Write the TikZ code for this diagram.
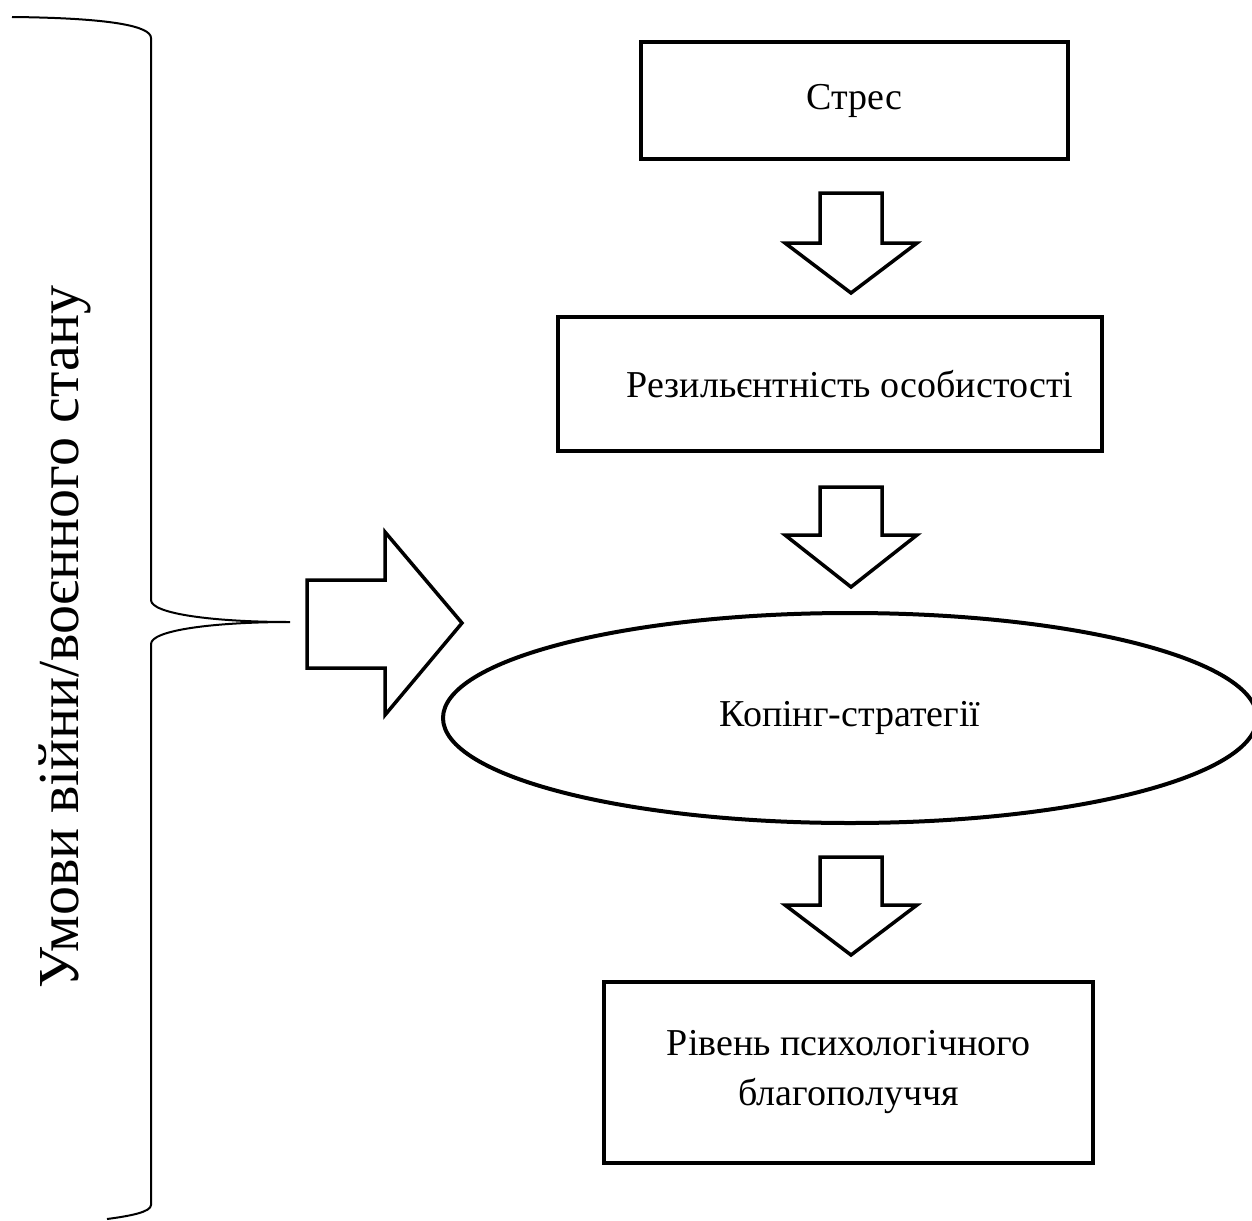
\documentclass[tikz,border=0pt]{standalone}
\usepackage{fontspec}
\setmainfont{Liberation Serif}
\usetikzlibrary{shapes.geometric}
\begin{document}
\begin{tikzpicture}[x=1pt,y=-1pt,
  box/.style={draw,line width=4pt,inner sep=0pt,font=\fontsize{38}{46}\selectfont,align=center},
  fatarrow/.style={draw,line width=3.5pt,fill=white,line join=miter},
  brace/.style={draw,line width=2pt}]
\useasboundingbox (0,0) rectangle (1252,1220);
% boxes
\node[box,minimum width=427pt,minimum height=117pt] (stres) at (854.5,100.5) {Стрес};
\node[box,minimum width=544pt,minimum height=134pt] (resil) at (830,384) {\hspace*{40pt}Резильєнтність особистості};
\node[draw,ellipse,line width=4pt,minimum width=814pt,minimum height=210pt,inner sep=0pt,font=\fontsize{38}{46}\selectfont] (coping) at (850,718) {Копінг-стратегії};
\node[box,minimum width=489pt,minimum height=181pt] (level) at (848.5,1072.5) {Рівень психологічного\\[4pt]благополуччя};
% down arrows
\coordinate (a1) at (851,193);
\draw[fatarrow] (a1) ++(-31,0) -- ++(62,0) -- ++(0,50) -- ++(35,0) -- ++(-66,50) -- ++(-66,-50) -- ++(35,0) -- cycle;
\coordinate (a2) at (851,487);
\draw[fatarrow] (a2) ++(-31,0) -- ++(62,0) -- ++(0,48) -- ++(35,0) -- ++(-66,52) -- ++(-66,-52) -- ++(35,0) -- cycle;
\coordinate (a3) at (851,857);
\draw[fatarrow] (a3) ++(-31,0) -- ++(62,0) -- ++(0,48) -- ++(35,0) -- ++(-66,50) -- ++(-66,-50) -- ++(35,0) -- cycle;
% right arrow
\coordinate (ar) at (307,580);
\draw[fatarrow] (ar) -- ++(78,0) -- ++(0,-48) -- ++(77,91) -- ++(-77,92) -- ++(0,-47) -- ++(-78,0) -- cycle;
% brace
\coordinate (btop) at (12,17);
\coordinate (btip) at (290,622);
\coordinate (bbot) at (107,1219);
\draw[brace] (btop) .. controls (110,18) and (151,26) .. (151,38) -- (151,600)
  .. controls (151,614) and (215,622) .. (btip)
  .. controls (215,622) and (151,630) .. (151,644) -- (151,1205)
  .. controls (151,1212) and (130,1216) .. (bbot);
\node[rotate=90,font=\fontsize{58}{64}\selectfont,inner sep=0pt] (cond) at (65,637) {Умови війни/воєнного стану};
\end{tikzpicture}
\end{document}
